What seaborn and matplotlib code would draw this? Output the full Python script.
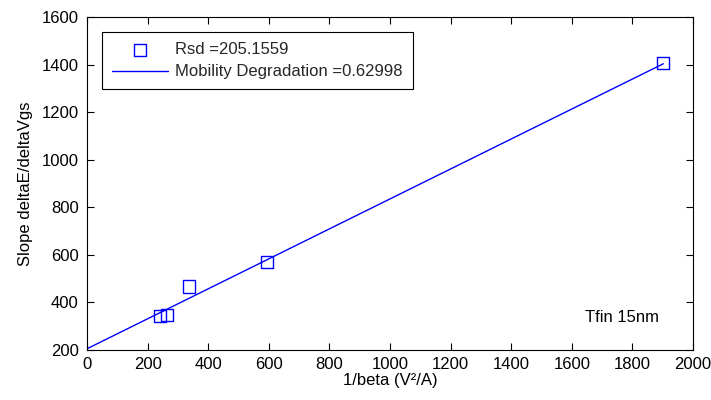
import numpy as np
import pandas as pd
import matplotlib
matplotlib.use("Agg")
import matplotlib.pyplot as plt
import seaborn as sns

# data
inv_beta = [241, 263, 336, 593, 1902]
slope_vals = [343, 348, 467, 572, 1405]
rsd = 205.1559
mob_deg = 0.62998
legend_labels = ["Rsd =205.1559", "Mobility Degradation =0.62998"]
xticks = [0, 200, 400, 600, 800, 1000, 1200, 1400, 1600, 1800, 2000]
yticks = [200, 400, 600, 800, 1000, 1200, 1400, 1600]

sns.set_theme(style="ticks")
plt.rcParams['font.family'] = ['Liberation Sans', 'DejaVu Sans']
plt.rcParams['xtick.direction'] = 'in'
plt.rcParams['ytick.direction'] = 'in'

FS = 12

fig = plt.figure(figsize=(7.11, 4.0), dpi=100)
ax = fig.add_axes([87/711, 1-350/400, (693-87)/711, (350-17)/400])

df = pd.DataFrame({"x": inv_beta, "y": slope_vals})
fit_x = np.array([0, max(inv_beta)])
fit = pd.DataFrame({"x": fit_x, "y": rsd + mob_deg * fit_x})

sns.scatterplot(data=df, x="x", y="y", marker="s", s=75, facecolor="none",
                edgecolor="#0000ff", linewidth=1.0, ax=ax, label=legend_labels[0], zorder=3)
sns.lineplot(data=fit, x="x", y="y", color="#0000ff", linewidth=1.0, ax=ax,
             label=legend_labels[1])

ax.set_xlim(0, 2000)
ax.set_ylim(200, 1600)
ax.set_xticks(xticks)
ax.set_yticks(yticks)
ax.tick_params(axis='both', which='both', direction='in', top=True, right=True,
               labelsize=FS, length=5, width=0.8, colors='black')
ax.tick_params(axis='y', pad=6)
ax.tick_params(axis='x', pad=5)
for sp in ax.spines.values():
    sp.set_color('black')
    sp.set_linewidth(0.8)

ax.set_xlabel("1/beta (V²/A)", fontsize=FS, color='black', labelpad=1)
ax.set_ylabel("Slope deltaE/deltaVgs", fontsize=FS, color='black', labelpad=6)

ax.text(1643, 335, "Tfin 15nm", fontsize=FS, color='black', va='center', ha='left')

leg = ax.legend(loc='upper left', bbox_to_anchor=(0.0243, 0.955), borderaxespad=0,
                fontsize=FS, frameon=True, fancybox=False, framealpha=1,
                edgecolor='black', handlelength=3.4, handletextpad=0.4,
                borderpad=0.6, labelspacing=0.45, scatterpoints=1)
leg.get_frame().set_linewidth(0.8)

fig.savefig("out.png", dpi=100)
